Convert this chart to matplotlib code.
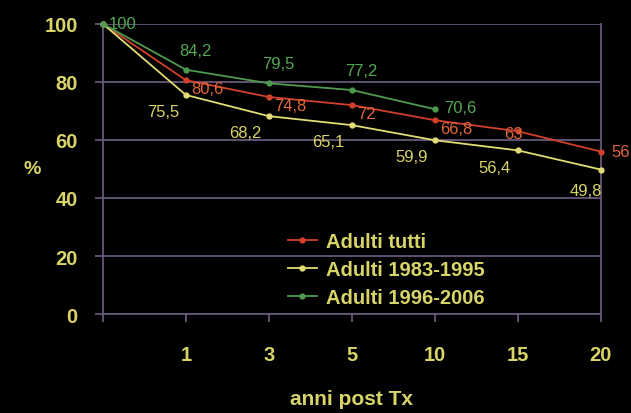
import matplotlib

matplotlib.use("Agg")

import matplotlib.pyplot as plt

plt.rcParams["font.family"] = ["Liberation Sans", "DejaVu Sans"]

years = ["", "1", "3", "5", "10", "15", "20"]
tutti = [100, 80.6, 74.8, 72, 66.8, 63, 56]
early = [100, 75.5, 68.2, 65.1, 59.9, 56.4, 49.8]
recent = [100, 84.2, 79.5, 77.2, 70.6]

tutti_labels = ["", "80,6", "74,8", "72", "66,8", "63", "56"]
early_labels = ["", "75,5", "68,2", "65,1", "59,9", "56,4", "49,8"]
recent_labels = ["100", "84,2", "79,5", "77,2", "70,6"]

bg = "black"
txt = "#d8d468"
grid_c = "#66587a"
red = "#d2402c"
red_txt = "#e0663c"
yel = "#e2dc74"
grn = "#4e9a4e"
grn_txt = "#52a852"

fig = plt.figure(figsize=(6.31, 4.14), dpi=100, facecolor=bg)
ax = fig.add_axes([0.163, 0.239, 0.789, 0.701])
ax.set_facecolor(bg)

x_all = list(range(len(years)))
ax.plot(x_all, tutti, color=red, lw=1.3, marker="o", ms=3.5, clip_on=False,
        label="Adulti tutti", zorder=3)
ax.plot(x_all, early, color=yel, lw=1.3, marker="o", ms=3.5, clip_on=False,
        label="Adulti 1983-1995", zorder=3)
ax.plot(x_all[:len(recent)], recent, color=grn, lw=1.3, marker="o", ms=3.5,
        clip_on=False, label="Adulti 1996-2006", zorder=4)

# data labels
for i, (v, s) in enumerate(zip(recent, recent_labels)):
    if i == 0:
        off, ha, va = (4, 0), "left", "center"
    elif i == 4:
        off, ha, va = (7, 1), "left", "center"
    else:
        off, ha, va = (7, 14), "center", "center"
    ax.annotate(s, (i, v), xytext=off, textcoords="offset points",
                ha=ha, va=va, color=grn_txt, fontsize=12)

for i, (v, s) in enumerate(zip(tutti, tutti_labels)):
    if not s:
        continue
    if i == 5:
        off, ha = (-3, -2), "center"
    elif i == 6:
        off, ha = (8, 0), "left"
    else:
        off, ha = (4, -6), "left"
    ax.annotate(s, (i, v), xytext=off, textcoords="offset points",
                ha=ha, va="center", color=red_txt, fontsize=12)

for i, (v, s) in enumerate(zip(early, early_labels)):
    if not s:
        continue
    ax.annotate(s, (i, v), xytext=(1 if i == 6 else -5, -12 if i < 6 else -15),
                textcoords="offset points", ha="right", va="center",
                color=txt, fontsize=12)

ax.set_xlim(0, 6)
ax.set_ylim(0, 100)
ax.set_xticks(x_all)
ax.set_xticklabels(years)
ax.set_yticks([0, 20, 40, 60, 80, 100])
ax.yaxis.grid(True, color=grid_c, lw=1.3)
ax.set_axisbelow(True)

for side in ["left", "bottom", "right", "top"]:
    ax.spines[side].set_color(grid_c)
    ax.spines[side].set_linewidth(1.3)
ax.spines["top"].set_visible(False)

ax.tick_params(colors=grid_c, length=6, width=1.3, labelsize=14.5,
               labelcolor=txt)
ax.tick_params(axis="x", pad=16)
ax.tick_params(axis="y", pad=12)
for lab in ax.get_xticklabels() + ax.get_yticklabels():
    lab.set_fontweight("bold")

ax.set_xlabel("anni post Tx", color=txt, fontsize=15, fontweight="bold",
              labelpad=18)
ax.set_ylabel("%", color=txt, fontsize=14, fontweight="bold", rotation=0,
              labelpad=9, va="center")

leg = ax.legend(loc="upper left", bbox_to_anchor=(0.335, 0.345), frameon=False,
                handlelength=1.45, labelspacing=0.45, handletextpad=0.45,
                prop={"weight": "bold", "size": 14.5})
for t in leg.get_texts():
    t.set_color(txt)

fig.savefig("out.png", dpi=100, facecolor=bg)
